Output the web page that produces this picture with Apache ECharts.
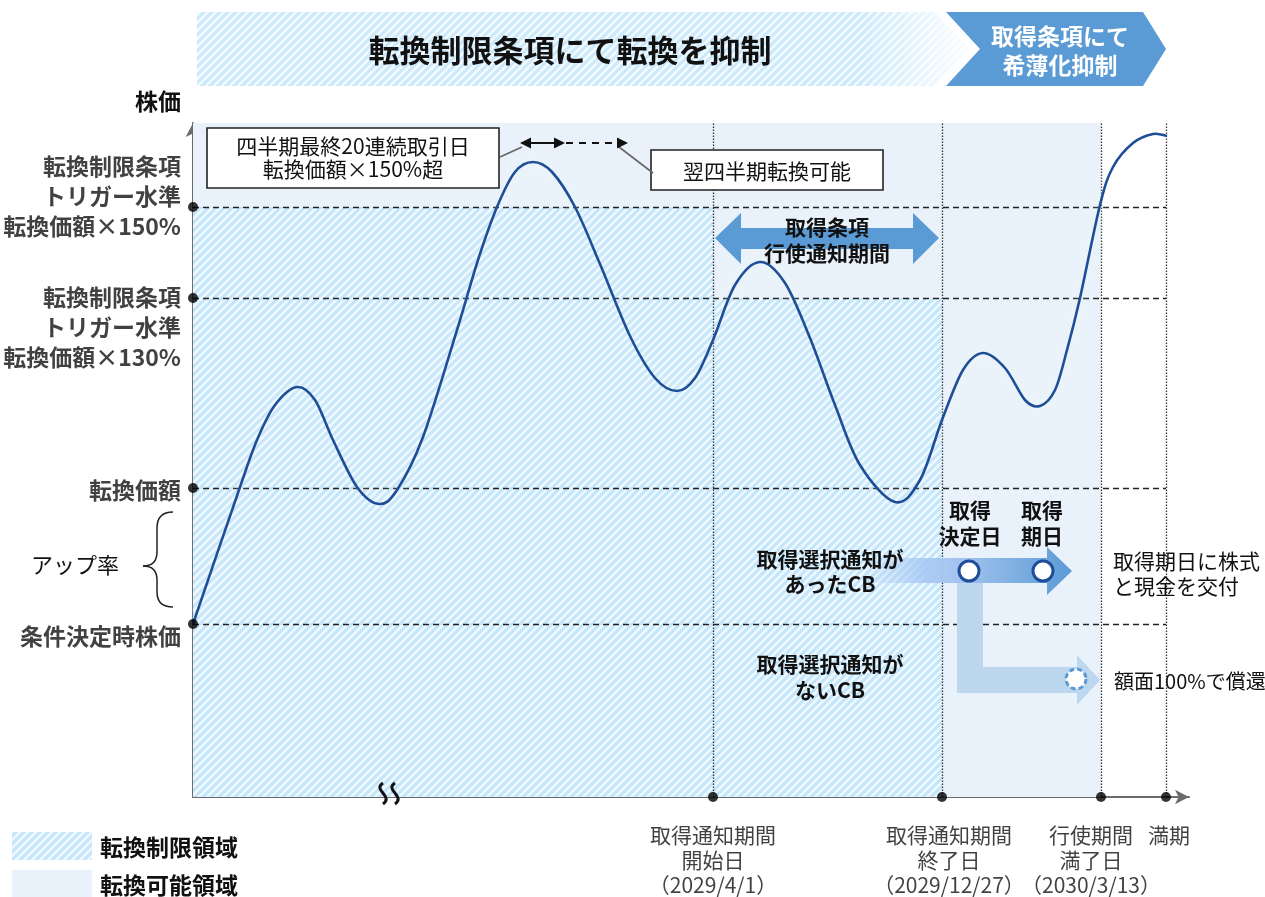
<!DOCTYPE html>
<html><head><meta charset="utf-8">
<script src="https://cdn.jsdelivr.net/npm/echarts@6/dist/echarts.min.js"></script>
<style>html,body{margin:0;padding:0;background:#fff}#c{width:1265px;height:897px}</style>
</head><body><div id="c"></div>
<script>
// ---- data (schematic units) ----
const priceX = [0,47,64,82,104,122,140,164,186,204,230,264,285,304,322,340,359,382,407,437,462,484,502,520,542,567,592,617,642,667,702,727,749,770,790,812,832,847,862,874,887,907,920,940,960,974];
const priceY = [173,310,357,392,410,397,357,310,293,307,360,467,537,590,625,635,625,590,533,461,419,406,419,457,512,535,514,459,392,332,295,317,377,427,444,429,397,391,407,447,499,592,630,654,663,661];
const levelNames = ['転換制限条項\nトリガー水準\n転換価額×150%', '転換制限条項\nトリガー水準\n転換価額×130%', '転換価額', '条件決定時株価'];
const levelValues = [590, 499, 309, 173];
const dateNames = ['取得通知期間\n開始日\n（2029/4/1）', '取得通知期間\n終了日\n（2029/12/27）', '行使期間\n満了日\n（2030/3/13）', '満期'];
const dateValues = [520, 749, 908, 973];
const axisMaxY = 674;
const axisMaxX = 996;

// ---- styles ----
const FONT = "'Noto Sans CJK JP','Noto Sans',sans-serif";
const levelLabelOffsets = [[0,-11],[0,29],[0,2],[0,12]];
const dateLabelOffsets = [[0,0],[7,0],[-10,0],[3,0]];
const PLAIN = '#e9f2fa';

function makeHatch(){
  const c = document.createElement('canvas'); c.width = 8; c.height = 8;
  const g = c.getContext('2d');
  g.fillStyle = '#eef8fe'; g.fillRect(0,0,8,8);
  g.strokeStyle = '#c1e5fa'; g.lineWidth = 3;
  g.beginPath();
  g.moveTo(-2,10); g.lineTo(10,-2);
  g.moveTo(-6,6); g.lineTo(6,-6);
  g.moveTo(2,14); g.lineTo(14,2);
  g.stroke();
  return c;
}
const hatchCanvas = makeHatch();
const hatch = () => ({image: hatchCanvas, repeat: 'repeat'});

const [L150, L130, LCONV, LSTART] = levelValues;
const [D_START, D_END, D_EX, D_MAT] = dateValues;

const areas = [
  [{coord:[0,0], itemStyle:{color:hatch()}}, {coord:[D_START,L150]}],
  [{coord:[D_START,0], itemStyle:{color:hatch()}}, {coord:[D_END,L130]}],
  [{coord:[0,L150], itemStyle:{color:PLAIN}}, {coord:[D_START,axisMaxY]}],
  [{coord:[D_START,L130], itemStyle:{color:PLAIN}}, {coord:[D_END,axisMaxY]}],
  [{coord:[D_END,0], itemStyle:{color:PLAIN}}, {coord:[D_EX,axisMaxY]}]
];
const dashStyle = {type:[6,4], color:'#222', width:1.3};
const dotStyle = {type:[1.5,1.5], color:'#333', width:1.3};
const refLines = [];
levelValues.forEach(v => refLines.push([{coord:[0,v], lineStyle:dashStyle},{coord:[D_MAT,v]}]));
dateValues.forEach(v => refLines.push([{coord:[v,0], lineStyle:dotStyle},{coord:[v,axisMaxY]}]));

// smooth price path (Catmull-Rom through the data points, mapped with the axis scales)
function renderPrice(params, api){
  const p = priceX.map((x,i) => api.coord([x, priceY[i]]));
  const n = p.length;
  let d = 'M' + p[0][0] + ',' + p[0][1];
  for (let i = 0; i < n-1; i++){
    const p0 = p[Math.max(i-1,0)], p1 = p[i], p2 = p[i+1], p3 = p[Math.min(i+2,n-1)];
    const c1x = p1[0] + (p2[0]-p0[0])/6, c1y = p1[1] + (p2[1]-p0[1])/6;
    const c2x = p2[0] - (p3[0]-p1[0])/6, c2y = p2[1] - (p3[1]-p1[1])/6;
    d += ' C' + c1x + ',' + c1y + ' ' + c2x + ',' + c2y + ' ' + p2[0] + ',' + p2[1];
  }
  return {type:'path', shape:{pathData:d}, style:{fill:'none', stroke:'#1f4e99', lineWidth:2.6, shadowColor:'rgba(255,255,255,1)', shadowBlur:16}};
}

const txt = (text, x, y, opt) => ({type:'text', z:120, style:Object.assign({text, x, y, align:'center', verticalAlign:'middle', fontFamily:FONT, fontSize:21, fill:'#111'}, opt||{})});
const poly = (points, fill, z) => ({type:'polygon', z: z||110, shape:{points}, style:{fill}});
const seg = (x1,y1,x2,y2,w) => ({type:'line', z:112, shape:{x1,y1,x2,y2}, style:{stroke:'#222', lineWidth:w||1.5}});
const qcurve = (x1,y1,cx,cy,x2,y2,w) => ({type:'bezierCurve', z:112, shape:{x1,y1,x2,y2,cpx1:cx,cpy1:cy}, style:{stroke:'#222', fill:'none', lineWidth:w||1.5}});
const ccurve = (x1,y1,c1x,c1y,c2x,c2y,x2,y2,w) => ({type:'bezierCurve', z:115, shape:{x1,y1,x2,y2,cpx1:c1x,cpy1:c1y,cpx2:c2x,cpy2:c2y}, style:{stroke:'#111', fill:'none', lineWidth:w||2.5}});

const graphics = [
  // top banner
  poly([[197,12],[934,12],[969,49],[934,86],[197,86]], hatch(), 100),
  poly([[197,12],[934,12],[969,49],[934,86],[197,86]], {type:'linear',x:0,y:0,x2:1,y2:0,colorStops:[{offset:0,color:'rgba(255,255,255,0.15)'},{offset:0.86,color:'rgba(255,255,255,0.15)'},{offset:1,color:'rgba(255,255,255,0.95)'}]}, 101),
  txt('転換制限条項にて転換を抑制', 570, 50, {fontSize:31, fontWeight:'bold'}),
  poly([[946,12],[1143,12],[1166,49],[1143,86],[946,86],[980,49]], '#5b9bd5', 100),
  txt('取得条項にて\n希薄化抑制', 1060, 51, {fontSize:23, fontWeight:'bold', fill:'#fff', lineHeight:29}),
  // y axis title
  txt('株価', 181, 101, {align:'right', fontSize:23, fontWeight:'bold'}),
  // up rate brace
  txt('アップ率', 75, 565, {fontSize:22}),
  qcurve(173,512,157,512,157,528),
  seg(157,528,157,552),
  qcurve(157,552,157,566,143,566),
  qcurve(143,566,157,566,157,580),
  seg(157,580,157,592),
  qcurve(157,592,157,607,173,607),
  // annotation boxes
  {type:'rect', z:110, shape:{x:207, y:128, width:292, height:60}, style:{fill:'#fff', stroke:'#222', lineWidth:1.6}},
  txt('四半期最終20連続取引日\n転換価額×150%超', 353, 158, {lineHeight:23}),
  {type:'rect', z:110, shape:{x:651, y:150, width:232, height:40}, style:{fill:'#fff', stroke:'#222', lineWidth:1.6}},
  txt('翌四半期転換可能', 767, 171),
  {type:'line', z:110, shape:{x1:500,y1:157,x2:522,y2:147}, style:{stroke:'#666', lineWidth:1.6}},
  {type:'line', z:110, shape:{x1:619,y1:147,x2:653,y2:173}, style:{stroke:'#666', lineWidth:1.6}},
  {type:'line', z:110, shape:{x1:528,y1:143,x2:558,y2:143}, style:{stroke:'#111', lineWidth:2}},
  poly([[520,143],[531,137.5],[531,148.5]], '#111'),
  poly([[565,143],[554,137.5],[554,148.5]], '#111'),
  {type:'line', z:110, shape:{x1:566,y1:143,x2:618,y2:143}, style:{stroke:'#111', lineWidth:2, lineDash:[7,6]}},
  poly([[628,143],[617,137.5],[617,148.5]], '#111'),
  // notice-period double arrow
  poly([[715,238],[741,213],[741,228],[913,228],[913,213],[939,238],[913,264],[913,249],[741,249],[741,264]], '#5b9bd5'),
  txt('取得条項\n行使通知期間', 827, 240, {fontWeight:'bold', lineHeight:26}),
  // lower right flow
  poly([[957,583],[957,693],[1077,693],[1077,705],[1100,680],[1077,655],[1077,667],[983,667],[983,583]], '#bdd7ee', 108),
  poly([[862,558],[1047,558],[1047,547],[1072,571],[1047,595],[1047,583],[862,583]], {type:'linear',x:0,y:0,x2:1,y2:0,colorStops:[{offset:0,color:'rgba(175,205,245,0)'},{offset:0.3,color:'rgba(165,198,242,0.85)'},{offset:0.45,color:'#a4c4ef'},{offset:1,color:'#5b9bd5'}]}, 109),
  {type:'circle', z:112, shape:{cx:969, cy:571, r:10}, style:{fill:'#fff', stroke:'#1f4e99', lineWidth:3}},
  {type:'circle', z:112, shape:{cx:1043, cy:571, r:10}, style:{fill:'#fff', stroke:'#1f4e99', lineWidth:3}},
  {type:'circle', z:112, shape:{cx:1076, cy:679, r:10}, style:{fill:'#fff', stroke:'#5b9bd5', lineWidth:3, lineDash:[5,3]}},
  txt('取得\n決定日', 970, 523, {fontWeight:'bold', lineHeight:26}),
  txt('取得\n期日', 1042, 523, {fontWeight:'bold', lineHeight:26}),
  txt('取得選択通知が\nあったCB', 830, 572, {fontWeight:'bold', lineHeight:25}),
  txt('取得選択通知が\nないCB', 830, 677, {fontWeight:'bold', lineHeight:26}),
  txt('取得期日に株式\nと現金を交付', 1113, 574, {align:'left', lineHeight:25}),
  txt('額面100%で償還', 1114, 681, {align:'left', fontSize:20}),
  // axis break mark
  ccurve(383,783,372,790,394,796,383,804,3),
  ccurve(395,783,384,790,406,796,395,804,3),
  // legend
  {type:'rect', z:110, shape:{x:12, y:832, width:80, height:28}, style:{fill:hatch()}},
  {type:'rect', z:110, shape:{x:12, y:870, width:80, height:27}, style:{fill:PLAIN}},
  txt('転換制限領域', 100, 847, {align:'left', fontSize:23, fontWeight:'bold'}),
  txt('転換可能領域', 100, 885, {align:'left', fontSize:23, fontWeight:'bold'})
];

const chart = echarts.init(document.getElementById('c'));
chart.setOption({
  animation: false,
  textStyle: {fontFamily: FONT},
  grid: {left:193, right:76, top:123, bottom:100},
  xAxis: {type:'value', min:0, max:axisMaxX, splitLine:{show:false}, axisLabel:{show:false}, axisTick:{show:false},
    axisLine:{show:true, onZero:false, symbol:['none','arrow'], symbolSize:[11,14], lineStyle:{color:'#6b6b6b', width:2}}},
  yAxis: {type:'value', min:0, max:axisMaxY, splitLine:{show:false}, axisLabel:{show:false}, axisTick:{show:false},
    axisLine:{show:true, onZero:false, symbol:['none','arrow'], symbolSize:[11,14], lineStyle:{color:'#6b6b6b', width:2}}},
  series: [
    {type:'line', data:[], z:1, silent:true, markArea:{silent:true, z:1, itemStyle:{borderWidth:0}, data:areas}},
    {type:'line', data:[], z:2, silent:true, markLine:{silent:true, z:2, symbol:['none','none'], label:{show:false}, data:refLines}},
    {type:'custom', name:'株価', z:5, silent:true, renderItem: renderPrice, data: [[priceX[0], priceY[0]]]},
    {type:'scatter', z:6, clip:false, symbolSize:10, itemStyle:{color:'#000'},
      label:{show:true, position:'left', distance:7, fontSize:23, fontWeight:'bold', lineHeight:30, color:'#111', align:'right', formatter:p=>p.name},
      data: levelValues.map((v,i)=>({name:levelNames[i], value:[0,v], label:{offset:levelLabelOffsets[i]}}))},
    {type:'scatter', z:6, clip:false, symbolSize:10, itemStyle:{color:'#000'},
      label:{show:true, position:'bottom', distance:21, fontSize:21, lineHeight:25, color:'#111', align:'center', formatter:p=>p.name},
      data: dateValues.map((v,i)=>({name:dateNames[i], value:[v,0], label:{offset:dateLabelOffsets[i]}}))}
  ],
  graphic: graphics
});
</script></body></html>
